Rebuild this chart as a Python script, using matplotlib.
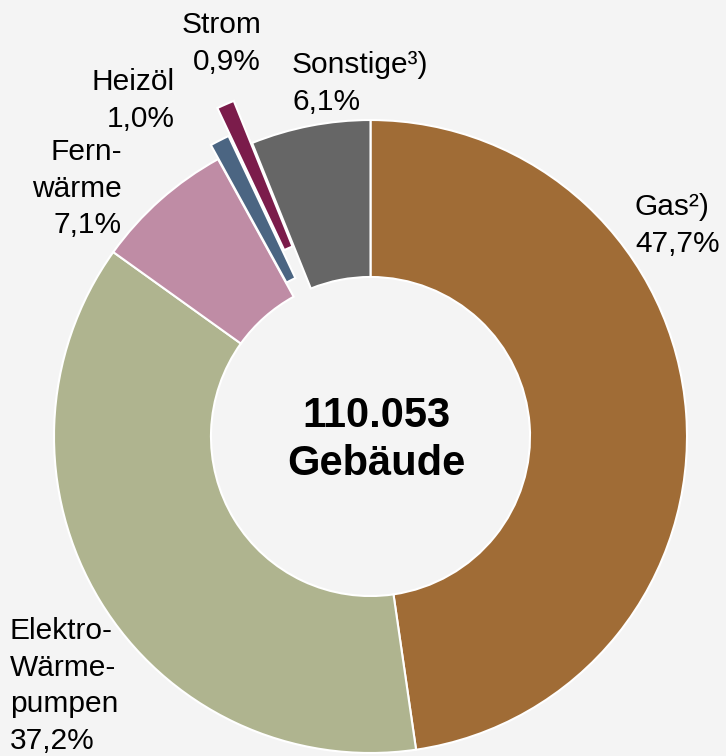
import matplotlib
matplotlib.use("Agg")
import matplotlib.pyplot as plt

plt.rcParams['font.family'] = ['Liberation Sans', 'DejaVu Sans']

# Data
categories = ["Gas²)", "Elektro-\nWärme-\npumpen", "Fern-\nwärme", "Heizöl", "Strom", "Sonstige³)"]
shares = [47.7, 37.2, 7.1, 1.0, 0.9, 6.1]
share_labels = ["47,7%", "37,2%", "7,1%", "1,0%", "0,9%", "6,1%"]
explode_frac = [0, 0, 0, 0.05, 0.145, 0]
colors = ["#A06C36", "#AFB48F", "#BF8CA5", "#4B6582", "#7B1C4B", "#666666"]
total_text = "110.053\nGebäude"

BG = "#F4F4F4"
W, H = 726, 756
fig = plt.figure(figsize=(W / 100, H / 100), dpi=100, facecolor=BG)
ax = fig.add_axes([0, 0, 1, 1])
ax.set_facecolor(BG)

cx, cy, R = 370.5, H - 436.5, 316.5
ax.pie(shares, explode=[e * R for e in explode_frac], colors=colors, startangle=90,
       counterclock=False, center=(cx, cy), radius=R, frame=True,
       wedgeprops=dict(width=R * 0.496, edgecolor='white', linewidth=1.5))
ax.set_xlim(0, W)
ax.set_ylim(0, H)
ax.set_aspect('equal')
ax.axis('off')

# label placement: (x, first baseline from top, alignment)
label_pos = [
    (635, 215, 'left'),
    (10, 639, 'left'),
    (122, 160, 'right'),
    (175, 90, 'right'),
    (261, 33, 'right'),
    (292, 73, 'left'),
]
LS = 36.7
for cat, pct, (x, yb, ha) in zip(categories, share_labels, label_pos):
    lines = cat.split("\n") + [pct]
    for i, line in enumerate(lines):
        ax.text(x, H - (yb + i * LS), line, ha=ha, va='baseline',
                fontsize=21.5, color='black')

for i, line in enumerate(total_text.split("\n")):
    ax.text(376, H - (427 + i * 48), line, ha='center', va='baseline',
            fontsize=30, fontweight='bold', color='black')

fig.savefig("out.png", dpi=100, facecolor=BG)
